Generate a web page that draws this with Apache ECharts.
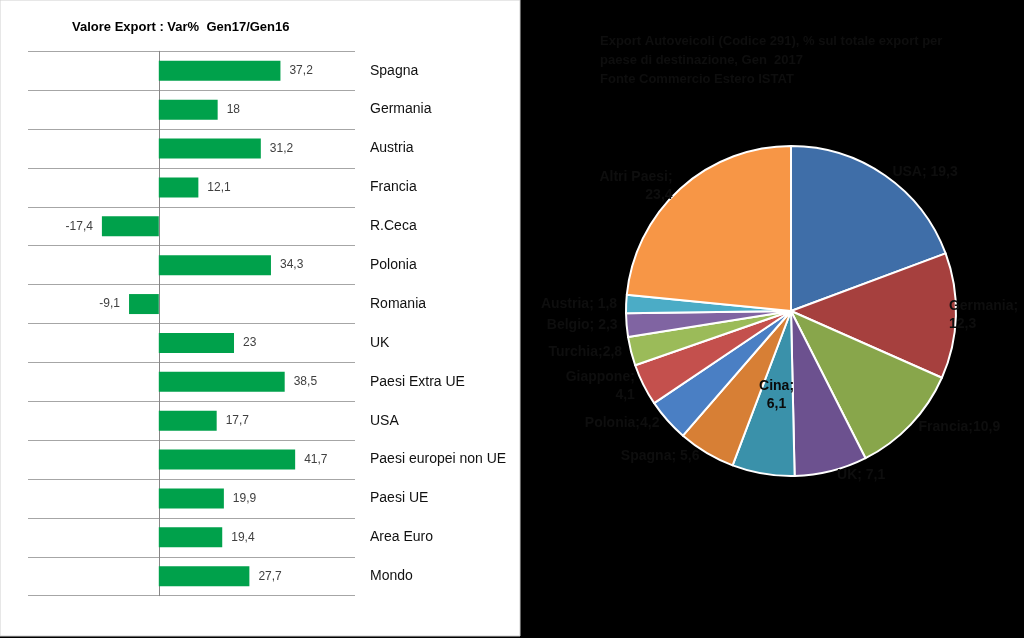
<!DOCTYPE html>
<html>
<head>
<meta charset="utf-8">
<script src="https://cdn.jsdelivr.net/npm/echarts@6/dist/echarts.min.js"></script>
<style>html,body{margin:0;padding:0;background:#000;}#c{width:1024px;height:638px;}</style>
</head>
<body>
<div id="c"></div>
<script>
// Bar chart data
var barCategories = ['Spagna','Germania','Austria','Francia','R.Ceca','Polonia','Romania','UK','Paesi Extra UE','USA','Paesi europei non UE','Paesi UE','Area Euro','Mondo'];
var barValues = [37.2, 18, 31.2, 12.1, -17.4, 34.3, -9.1, 23, 38.5, 17.7, 41.7, 19.9, 19.4, 27.7];

// Pie chart data
var pieNames = ['USA','Germania','Francia','UK','Cina','Spagna','Polonia','Giappone','Turchia','Belgio','Austria','Altri Paesi'];
var pieValues = [19.3, 12.3, 10.9, 7.1, 6.1, 5.6, 4.2, 4.1, 2.8, 2.3, 1.8, 23.4];
var pieLabelSep = ['; ', ';\n', ';', '; ', ';\n', '; ', ';', ';\n', ';', '; ', '; ', ';\n'];
var pieColors = ['#3f6ea8','#a6403e','#88a64b','#6c518f','#3a91aa','#d77f35','#4a7fc4','#c4504d','#9bbb59','#8064a2','#4bacc6','#f79646'];
var pieInside = ['Cina'];

var titleLeft = 'Valore Export : Var%  Gen17/Gen16';
var titleRight = 'Export Autoveicoli (Codice 291), % sul totale export per\npaese di destinazione, Gen  2017\nFonte Commercio Estero ISTAT';

function fmt(v){ return String(v).replace('.', ','); }

var chart = echarts.init(document.getElementById('c'), null, {renderer:'canvas'});
var option = {
  backgroundColor: '#000',
  animation: false,
  graphic: [{
    type: 'rect', z: -10, silent: true,
    shape: {x: 0, y: 0, width: 520, height: 636},
    style: {fill: '#fff', stroke: '#d0d0d0', lineWidth: 1}
  }],
  title: [{
    text: titleLeft, left: 67, top: 16,
    textStyle: {fontFamily: 'Liberation Sans', fontWeight: 'bold', fontSize: 13, color: '#000'}
  }, {
    text: titleRight, left: 595, top: 27,
    textStyle: {fontFamily: 'Liberation Sans', fontWeight: 'bold', fontSize: 13, lineHeight: 19, color: '#0e0e0e'}
  }],
  grid: {left: 28, right: 669, top: 51.3, bottom: 42.3, containLabel: false},
  xAxis: {type: 'value', min: -40, max: 60, show: false},
  yAxis: [{
    type: 'category', data: barCategories, inverse: true, position: 'left',
    axisLine: {show: true, onZero: true, lineStyle: {color: '#868686', width: 1}},
    axisTick: {show: false}, axisLabel: {show: false},
    splitLine: {show: true, lineStyle: {color: '#a6a6a6', width: 1}}
  }, {
    type: 'category', data: barCategories, inverse: true, position: 'right',
    axisLine: {show: false}, axisTick: {show: false}, splitLine: {show: false},
    axisLabel: {show: true, margin: 15, fontFamily: 'Liberation Sans', fontSize: 14, color: '#111'}
  }],
  series: [{
    type: 'bar', yAxisIndex: 0, barWidth: 20,
    itemStyle: {color: '#00a14b'},
    data: barValues.map(function(v){
      return {value: v, label: {position: v < 0 ? 'left' : 'right'}};
    }),
    label: {show: true, distance: 9, fontFamily: 'Liberation Sans', fontSize: 12, color: '#404040',
      formatter: function(p){ return fmt(p.value); }}
  }, {
    type: 'pie', center: [791, 311], radius: 165, startAngle: 90, clockwise: true,
    avoidLabelOverlap: false,
    itemStyle: {borderColor: '#fff', borderWidth: 2},
    label: {show: true, position: 'outside', fontFamily: 'Liberation Sans', fontWeight: 'bold', fontSize: 14,
      color: '#0e0e0e', lineHeight: 18,
      formatter: function(p){ return p.name + pieLabelSep[p.dataIndex] + fmt(p.value); }},
    labelLine: {show: false, length: 4, length2: 0},
    data: pieNames.map(function(n, i){
      var d = {name: n, value: pieValues[i], itemStyle: {color: pieColors[i]}};
      if (pieInside.indexOf(n) >= 0) d.label = {position: 'inside', color: '#0a0a0a'};
      if (n === 'Germania') d.labelLine = {length: -12, length2: 0};
      return d;
    })
  }]
};
chart.setOption(option);
</script>
</body>
</html>
